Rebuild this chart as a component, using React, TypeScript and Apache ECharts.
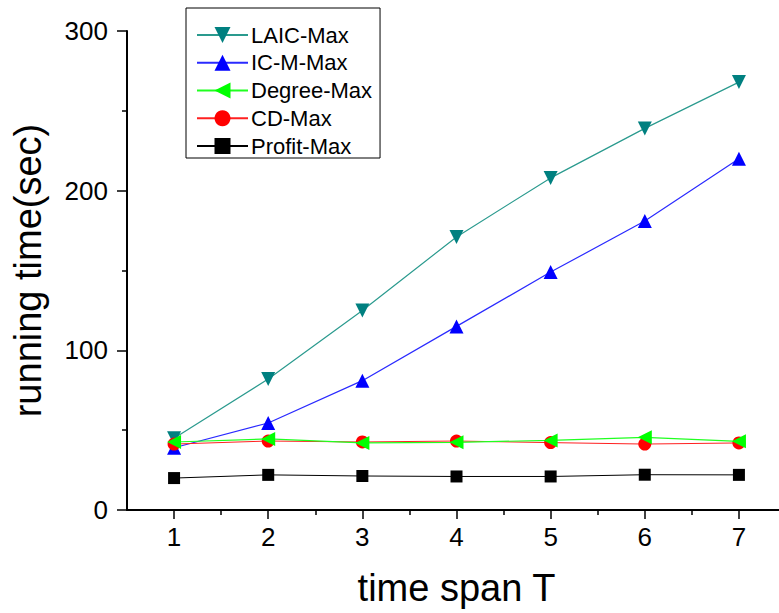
import React, { useEffect, useRef } from "react";
import * as echarts from "echarts";

const categories = [1, 2, 3, 4, 5, 6, 7];
const laicMax = [45, 82, 125, 171, 208, 239, 268];
const icmMax = [39, 54.5, 81, 115, 149, 181, 220];
const degreeMax = [42.6, 44.5, 42, 42.4, 43.6, 45.5, 43];
const cdMax = [41.3, 43.2, 42.6, 43.2, 42.2, 41.3, 42];
const profitMax = [20, 22, 21.3, 21, 21, 22.1, 22];
const yTicks = [0, 100, 200, 300];
const xMinorTicks = [1.5, 2.5, 3.5, 4.5, 5.5, 6.5, 7.5];

const FONT = "'Liberation Sans', Arial, sans-serif";

function pts(vals: number[]) {
  return vals.map((v, i) => [categories[i], v]);
}

export default function App() {
  const ref = useRef<HTMLDivElement>(null);
  useEffect(() => {
    if (!ref.current) return;
    const chart = echarts.init(ref.current, undefined, { renderer: "svg" });
    const axisLine = { show: true, lineStyle: { color: "#000", width: 2 } };
    chart.setOption({
      animation: false,
      backgroundColor: "#fff",
      textStyle: { fontFamily: FONT },
      grid: { left: 127, top: 31, bottom: 103, right: -7, outerBoundsMode: "none" },
      legend: {
        orient: "vertical",
        left: 186,
        top: 8,
        data: ["LAIC-Max", "IC-M-Max", "Degree-Max", "CD-Max", "Profit-Max"],
        itemWidth: 51,
        itemHeight: 20,
        itemGap: 5.75,
        padding: [16, 8, 1, 10],
        borderColor: "#000",
        borderWidth: 1,
        textStyle: { fontSize: 22, lineHeight: 22, color: "#000", fontFamily: FONT, padding: [0, 0, 0, -2] },
      },
      xAxis: [
        {
          type: "value",
          min: 0.5,
          max: 7.5,
          splitLine: { show: false },
          axisLine: { ...axisLine, onZero: false },
          axisTick: { show: true, length: 9, customValues: categories, lineStyle: { color: "#000", width: 1.5 } },
          axisLabel: { customValues: categories, fontSize: 26, color: "#000", margin: 14, fontFamily: FONT },
          name: "time span T",
          nameLocation: "middle",
          nameGap: 59,
          nameTextStyle: { fontSize: 38, color: "#000", fontFamily: FONT },
        },
        {
          type: "value",
          min: 0.5,
          max: 7.5,
          position: "bottom",
          splitLine: { show: false },
          axisLine: { show: false, onZero: false },
          axisTick: { show: true, length: 5, customValues: xMinorTicks, lineStyle: { color: "#000", width: 1.5 } },
          axisLabel: { show: false },
        },
      ],
      yAxis: {
        type: "value",
        min: 0,
        max: 300,
        interval: 100,
        splitLine: { show: false },
        axisLine: { ...axisLine, onZero: false },
        axisTick: { show: true, length: 10, lineStyle: { color: "#000", width: 1.5 } },
        minorTick: { show: true, splitNumber: 2, length: 5, lineStyle: { color: "#000", width: 1.5 } },
        axisLabel: { fontSize: 26, color: "#000", margin: 19, fontFamily: FONT, customValues: yTicks },
        name: "running time(sec)",
        nameLocation: "middle",
        nameGap: 80,
        nameTextStyle: { fontSize: 38, color: "#000", fontFamily: FONT },
      },
      series: [
        {
          name: "Profit-Max",
          type: "line",
          data: pts(profitMax),
          symbol: "rect",
          symbolSize: 12,
          color: "#000",
          lineStyle: { width: 1, color: "#000" },
          z: 2,
        },
        {
          name: "LAIC-Max",
          type: "line",
          data: pts(laicMax),
          symbol: "triangle",
          symbolRotate: 180,
          symbolSize: 14,
          color: "#008080",
          lineStyle: { width: 1.2, color: "#2a9a8e" },
          z: 3,
        },
        {
          name: "IC-M-Max",
          type: "line",
          data: pts(icmMax),
          symbol: "triangle",
          symbolSize: 14,
          color: "#0000ff",
          lineStyle: { width: 1.2, color: "#2a2aff" },
          z: 4,
        },
        {
          name: "CD-Max",
          type: "line",
          data: pts(cdMax),
          symbol: "circle",
          symbolSize: 13,
          color: "#ff0000",
          lineStyle: { width: 1, color: "#ff2020" },
          z: 5,
        },
        {
          name: "Degree-Max",
          type: "line",
          data: pts(degreeMax),
          symbol: "triangle",
          symbolRotate: 90,
          symbolSize: 14,
          color: "#00ff00",
          lineStyle: { width: 1.2, color: "#20ff20" },
          z: 6,
        },
      ],
    });
    return () => chart.dispose();
  }, []);
  return (
    <div
      ref={ref}
      style={{ position: "fixed", left: 0, top: 0, width: 779, height: 613, background: "#fff" }}
    />
  );
}
